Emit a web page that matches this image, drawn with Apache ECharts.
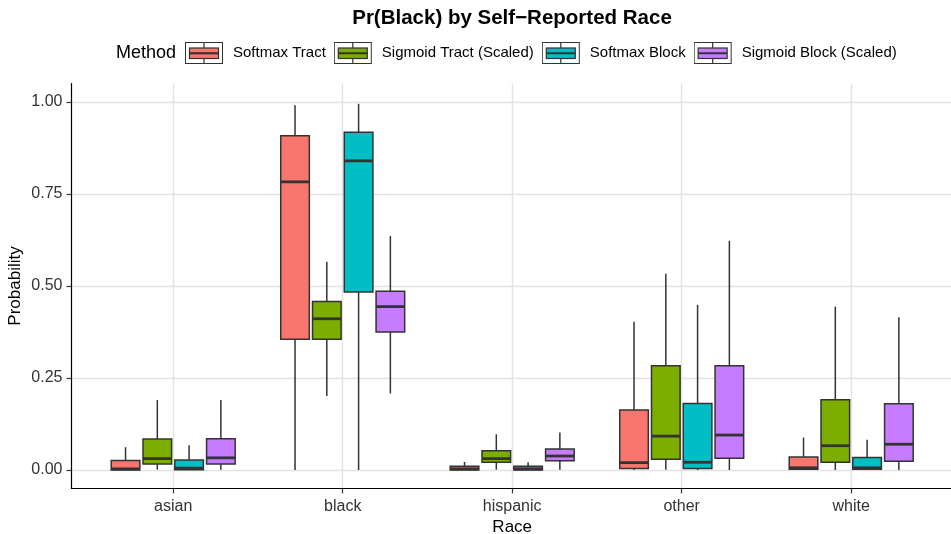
<!DOCTYPE html>
<html>
<head>
<meta charset="utf-8">
<script src="https://cdn.jsdelivr.net/npm/echarts@6/dist/echarts.min.js"></script>
<style>
  html, body { margin: 0; padding: 0; background: #ffffff; }
  #chart { width: 951px; height: 534px; }
</style>
</head>
<body>
<div id="chart"></div>
<script>
// Categories and methods
const races = ['asian', 'black', 'hispanic', 'other', 'white'];
const methods = ['Softmax Tract', 'Sigmoid Tract (Scaled)', 'Softmax Block', 'Sigmoid Block (Scaled)'];
const methodColors = ['#F8766D', '#7CAE00', '#00BFC4', '#C77CFF'];
const yTicks = [0, 0.25, 0.5, 0.75, 1];

// Box summaries per race: [lower whisker, Q1, median, Q3, upper whisker]
const softmaxTract = [
  [0.000, 0.000, 0.003, 0.026, 0.062],
  [0.000, 0.355, 0.783, 0.908, 0.991],
  [0.000, 0.000, 0.003, 0.010, 0.022],
  [0.000, 0.004, 0.020, 0.163, 0.403],
  [0.000, 0.002, 0.006, 0.035, 0.088]
];
const sigmoidTract = [
  [0.001, 0.016, 0.031, 0.084, 0.190],
  [0.201, 0.355, 0.411, 0.458, 0.566],
  [0.001, 0.021, 0.031, 0.052, 0.097],
  [0.001, 0.029, 0.092, 0.283, 0.533],
  [0.000, 0.021, 0.066, 0.191, 0.444]
];
const softmaxBlock = [
  [0.000, 0.001, 0.005, 0.027, 0.067],
  [0.000, 0.484, 0.840, 0.918, 0.995],
  [0.000, 0.000, 0.003, 0.010, 0.021],
  [0.000, 0.004, 0.021, 0.181, 0.449],
  [0.000, 0.002, 0.006, 0.034, 0.082]
];
const sigmoidBlock = [
  [0.001, 0.016, 0.033, 0.085, 0.190],
  [0.208, 0.375, 0.444, 0.486, 0.636],
  [0.001, 0.025, 0.038, 0.057, 0.102],
  [0.000, 0.032, 0.095, 0.283, 0.623],
  [0.000, 0.024, 0.070, 0.180, 0.415]
];
const methodStats = [softmaxTract, sigmoidTract, softmaxBlock, sigmoidBlock];

// Dodge layout (in category units): 0.75 of a unit shared by four boxes
const dodgeWidth = 0.75;
const slot = dodgeWidth / methods.length;
const boxFrac = 0.9;
const outline = '#333333';

function renderBox(params, api) {
  const si = params.seriesIndex;
  const cat = api.value(0);
  const xPos = cat - dodgeWidth / 2 + slot * (si + 0.5);
  const unit = api.size([1, 0])[0];
  const half = unit * slot * boxFrac / 2;
  const pLo = api.coord([xPos, api.value(1)]);
  const pQ1 = api.coord([xPos, api.value(2)]);
  const pMed = api.coord([xPos, api.value(3)]);
  const pQ3 = api.coord([xPos, api.value(4)]);
  const pHi = api.coord([xPos, api.value(5)]);
  const cx = pLo[0];
  const lineStyle = { stroke: outline, lineWidth: 1.5 };
  return {
    type: 'group',
    children: [
      { type: 'line', shape: { x1: cx, y1: pLo[1], x2: cx, y2: pQ1[1] }, style: lineStyle },
      { type: 'line', shape: { x1: cx, y1: pQ3[1], x2: cx, y2: pHi[1] }, style: lineStyle },
      {
        type: 'rect',
        shape: { x: cx - half, y: pQ3[1], width: half * 2, height: pQ1[1] - pQ3[1] },
        style: { fill: methodColors[si], stroke: outline, lineWidth: 1.5 }
      },
      { type: 'line', shape: { x1: cx - half, y1: pMed[1], x2: cx + half, y2: pMed[1] }, style: { stroke: outline, lineWidth: 2.8 } }
    ]
  };
}

// Legend key: a small boxplot glyph in a framed key box
function keyIcon(color) {
  const svg = "<svg xmlns='http://www.w3.org/2000/svg' width='43' height='22' viewBox='0 0 43 22'>" +
    "<rect x='0.5' y='0.5' width='37' height='21' fill='#ffffff' stroke='#333333' stroke-width='1'/>" +
    "<line x1='19' y1='1' x2='19' y2='21' stroke='#333333' stroke-width='1.2'/>" +
    "<rect x='4.5' y='6' width='29' height='10.5' fill='" + color + "' stroke='#333333' stroke-width='1.2'/>" +
    "<line x1='4.5' y1='11.25' x2='33.5' y2='11.25' stroke='#333333' stroke-width='2.2'/>" +
    "</svg>";
  return 'image://data:image/svg+xml;charset=utf-8,' + encodeURIComponent(svg);
}

const fontFamily = "'Liberation Sans', Arial, Helvetica, sans-serif";

const series = methods.map((name, mi) => ({
  name: name,
  type: 'custom',
  renderItem: renderBox,
  itemStyle: { color: methodColors[mi] },
  encode: { x: 0, y: [1, 2, 3, 4, 5] },
  data: methodStats[mi].map((s, ci) => [ci].concat(s))
}));

const chart = echarts.init(document.getElementById('chart'), null, { renderer: 'canvas' });
chart.setOption({
  backgroundColor: '#ffffff',
  animation: false,
  textStyle: { fontFamily: fontFamily },
  title: [
    {
      text: 'Pr(Black) by Self\u2212Reported Race',
      left: 512,
      top: 8,
      padding: 0,
      textAlign: 'center',
      textStyle: { fontFamily: fontFamily, fontSize: 20.5, fontWeight: 'bold', color: '#000000' }
    },
    {
      text: 'Method',
      left: 116,
      top: 44,
      padding: 0,
      textStyle: { fontFamily: fontFamily, fontSize: 18, fontWeight: 'normal', color: '#000000' }
    }
  ],
  legend: {
    left: 185,
    top: 42,
    padding: 0,
    itemWidth: 43,
    itemHeight: 22,
    itemGap: 8,
    selectedMode: false,
    textStyle: { fontFamily: fontFamily, fontSize: 15, color: '#000000' },
    data: methods.map((m, i) => ({ name: m, icon: keyIcon(methodColors[i]) }))
  },
  grid: {
    left: 71.5,
    right: -1.9,
    top: 83.6,
    bottom: 45.6,
    containLabel: false,
    outerBoundsMode: 'none'
  },
  xAxis: {
    type: 'value',
    min: -0.6,
    max: 4.6,
    name: 'Race',
    nameLocation: 'middle',
    nameGap: 30,
    nameMoveOverlap: false,
    nameTextStyle: { fontFamily: fontFamily, fontSize: 17, color: '#000000' },
    axisLine: { show: true, onZero: false, lineStyle: { color: '#000000', width: 1.2 } },
    axisTick: { show: true, customValues: [0, 1, 2, 3, 4], length: 5, lineStyle: { color: '#333333', width: 1.2 } },
    axisLabel: {
      customValues: [0, 1, 2, 3, 4],
      margin: 10,
      fontSize: 16,
      color: '#333333',
      fontFamily: fontFamily,
      formatter: v => races[Math.round(v)]
    },
    splitLine: { show: true, lineStyle: { color: '#e3e3e3', width: 1.4 } }
  },
  yAxis: {
    type: 'value',
    min: -0.05,
    max: 1.05,
    name: 'Probability',
    nameLocation: 'middle',
    nameGap: 48,
    nameMoveOverlap: false,
    nameTextStyle: { fontFamily: fontFamily, fontSize: 17, color: '#000000' },
    axisLine: { show: true, onZero: false, lineStyle: { color: '#000000', width: 1.2 } },
    axisTick: { show: true, customValues: yTicks, length: 5, lineStyle: { color: '#333333', width: 1.2 } },
    axisLabel: {
      customValues: yTicks,
      margin: 9,
      fontSize: 16,
      color: '#333333',
      fontFamily: fontFamily,
      formatter: v => Number(v).toFixed(2)
    },
    splitLine: { show: true, lineStyle: { color: '#e3e3e3', width: 1.4 } }
  },
  series: series
});
</script>
</body>
</html>
